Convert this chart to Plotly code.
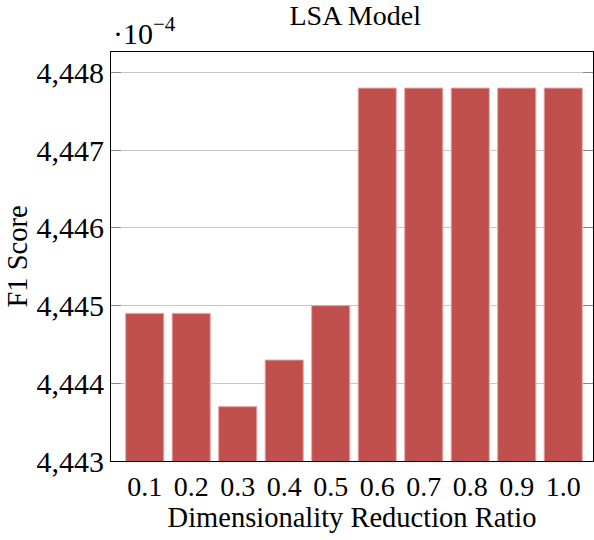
import plotly.graph_objects as go

categories = ["0.1", "0.2", "0.3", "0.4", "0.5", "0.6", "0.7", "0.8", "0.9", "1.0"]
f1_scores = [4444.9, 4444.9, 4443.7, 4444.3, 4445.0, 4447.8, 4447.8, 4447.8, 4447.8, 4447.8]
y_ticks = [4443, 4444, 4445, 4446, 4447, 4448]

FONT = "'Liberation Serif', 'Times New Roman', serif"

fig = go.Figure()
fig.add_trace(go.Bar(
    x=categories,
    y=f1_scores,
    marker=dict(color="#C0504D", line=dict(color="#E8AAA8", width=1)),
    width=0.82,
))

fig.update_layout(
    width=594,
    height=540,
    margin=dict(l=111, r=1, t=52, b=79),
    paper_bgcolor="white",
    plot_bgcolor="white",
    showlegend=False,
    font=dict(family=FONT, size=28, color="black"),
    title=dict(text="LSA Model", x=0.598, xanchor="center", y=0.972, yanchor="middle",
               font=dict(family=FONT, size=28, color="black")),
    xaxis=dict(
        type="category",
        range=[-0.725, 9.64],
        showline=True, linecolor="black", linewidth=1.2, mirror=True,
        ticks="", showgrid=False,
        tickfont=dict(family=FONT, size=28),
        title=dict(text="Dimensionality Reduction Ratio", standoff=4,
                   font=dict(family=FONT, size=28.5)),
    ),
    yaxis=dict(
        range=[4443, 4448.264],
        tickvals=y_ticks,
        tickformat=",",
        showline=True, linecolor="black", linewidth=1.2, mirror="ticks",
        ticks="inside", ticklen=10, tickcolor="#888888", tickwidth=1,
        showgrid=True, gridcolor="#C8C8C8", gridwidth=1,
        zeroline=False,
        tickfont=dict(family=FONT, size=30),
        title=dict(text="F1 Score", standoff=0, font=dict(family=FONT, size=28.5)),
    ),
)

fig.add_annotation(
    text="·10<sup>−4</sup>", xref="paper", yref="paper",
    x=0.0, y=1.0, xanchor="left", yanchor="bottom", showarrow=False,
    font=dict(family=FONT, size=30, color="black"), yshift=0,
)

fig.write_html("out.html")
